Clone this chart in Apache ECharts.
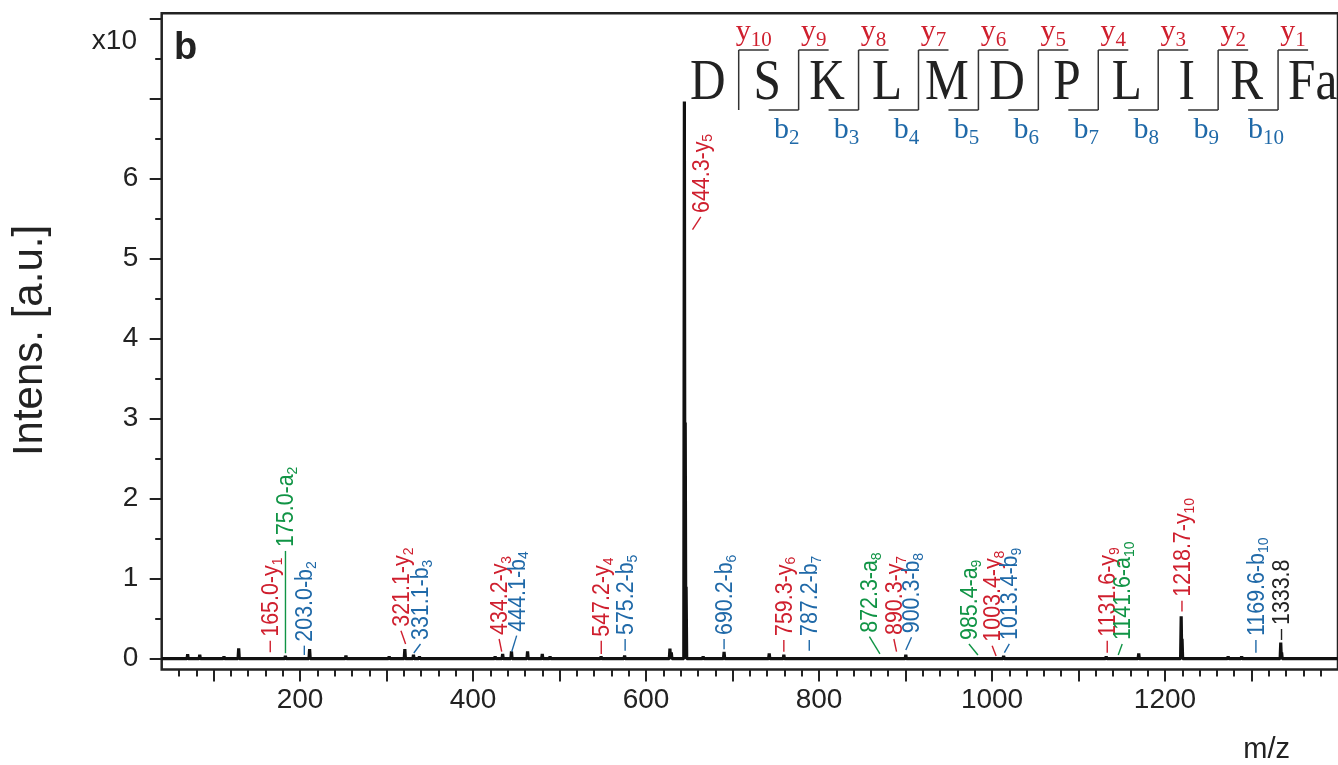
<!DOCTYPE html>
<html>
<head>
<meta charset="utf-8">
<title>MS/MS spectrum</title>
<script src="https://cdn.jsdelivr.net/npm/echarts@6/dist/echarts.min.js"></script>
<style>
  html, body { margin: 0; padding: 0; background: #fff; }
  #chart { width: 1338px; height: 765px; }
</style>
</head>
<body>
<div id="chart"></div>
<script>
// ---- Spectrum peaks (m/z, intensity in units of the "x10" axis) ----
const peakMz = [70, 84, 112, 129, 183, 211, 253, 303, 321.1, 331.1,
                338, 425.5, 434.2, 444.4, 463, 480, 489, 548, 575.2, 627.6,
                629.2, 644.3, 645.3, 646.3, 666, 690.2, 742.4, 759.3, 900.3, 1013.4,
                1132, 1169.6, 1218.7, 1219.7, 1273, 1288.6, 1300, 1333.8, 1334.8];
const peakIntensity = [0.055, 0.05, 0.03, 0.13, 0.035, 0.12, 0.04, 0.03, 0.12, 0.05,
                       0.03, 0.03, 0.06, 0.09, 0.09, 0.06, 0.03, 0.03, 0.04, 0.125,
                       0.08, 6.96, 2.95, 0.9, 0.03, 0.085, 0.065, 0.05, 0.05, 0.035,
                       0.03, 0.065, 0.53, 0.25, 0.03, 0.03, 0.02, 0.2, 0.08];

// ---- Fragment ion annotations ----
const ionMz    = ['165.0', '175.0', '203.0', '321.1', '331.1', '434.2', '444.1', '547.2', '575.2', '644.3',
                  '690.2', '759.3', '787.2', '872.3', '890.3', '900.3', '985.4', '1003.4', '1013.4', '1131.6',
                  '1141.6', '1218.7', '1169.6', '1333.8'];
const ionType  = ['y', 'a', 'b', 'y', 'b', 'y', 'b', 'y', 'b', 'y',
                  'b', 'y', 'b', 'a', 'y', 'b', 'a', 'y', 'b', 'y',
                  'a', 'y', 'b', ''];
const ionIndex = ['1', '2', '2', '2', '3', '3', '4', '4', '5', '5',
                  '6', '6', '7', '8', '7', '8', '9', '8', '9', '9',
                  '10', '10', '10', ''];

// Leader lines: foot (m/z, level) near the peak, head (m/z, level) where the label starts
const leaderFootMz    = [165.5, 183.1, 204.9, 322.0, 331.5, 433.1, 444.7, 548.2, 575.8, 653.7,
                         690.2, 759.3, 788.7, 870.4, 889.6, 900.3, 983.7, 1004.7, 1014.3, 1133.2,
                         1145.9, 1219.6, 1305.1, 1334.7];
const leaderFootLevel = [0.08, 0.068, 0.046, 0.184, 0.071, 0.088, 0.088, 0.059, 0.10, 5.359,
                         0.117, 0.088, 0.10, 0.059, 0.088, 0.109, 0.046, 0.034, 0.075, 0.075,
                         0.046, 0.588, 0.075, 0.234];
const leaderHeadMz    = [165.5, 183.1, 204.9, 316.6, 339.2, 430.1, 450.4, 548.2, 575.8, 663.3,
                         690.2, 759.3, 788.7, 858.2, 886.5, 906.9, 973.3, 1000.1, 1020.0, 1133.2,
                         1150.5, 1219.6, 1305.1, 1334.7];
const leaderHeadLevel = [0.225, 1.346, 0.163, 0.35, 0.184, 0.246, 0.288, 0.225, 0.246, 5.518,
                         0.246, 0.234, 0.234, 0.275, 0.246, 0.268, 0.184, 0.163, 0.184, 0.225,
                         0.184, 0.725, 0.234, 0.371];

// ---- Axis ticks ----
const xMajorTicks = [100, 200, 300, 400, 500, 600, 700, 800, 900, 1000, 1100, 1200, 1300];
const xMinorTicks = [];
for (let v = 60; v < 1400; v += 20) { if (v % 100 !== 0) xMinorTicks.push(v); }
const xTickLabels = [200, 400, 600, 800, 1000, 1200];
const yMajorTicks = [0, 1, 2, 3, 4, 5, 6, 7, 8];
const yMinorTicks = [0.5, 1.5, 2.5, 3.5, 4.5, 5.5, 6.5, 7.5];
const yTickLabels = [0, 1, 2, 3, 4, 5, 6];

// ---- Peptide sequence with cleavage markers ----
const sequence = ['D', 'S', 'K', 'L', 'M', 'D', 'P', 'L', 'I', 'R', 'Fa'];
const yIonNumbers = ['10', '9', '8', '7', '6', '5', '4', '3', '2', '1'];
const bIonNumbers = ['', '2', '3', '4', '5', '6', '7', '8', '9', '10'];

const RED = '#cf1f2e', BLUE = '#1f69a8', GREEN = '#109445', INK = '#222';
const typeColor = { y: RED, b: BLUE, a: GREEN };
const SANS = '"Liberation Sans", Arial, Helvetica, sans-serif';
const SERIF = '"Liberation Serif", "Times New Roman", serif';

// Spectrum trace: baseline with narrow spikes
const order = peakMz.map((m, i) => i).sort((a, b) => peakMz[a] - peakMz[b]);
const trace = [[40, 0]];
order.forEach(i => {
  const m = peakMz[i], h = peakIntensity[i];
  trace.push([m - 0.7, 0], [m, h], [m + 0.7, 0]);
});
trace.push([1400, 0]);

const leaderData = ionMz.map((_, i) => [leaderFootMz[i], leaderFootLevel[i], leaderHeadMz[i], leaderHeadLevel[i]]);

function renderIonLabel(params, api) {
  const i = params.dataIndex;
  const foot = api.coord([api.value(0), api.value(1)]);
  const head = api.coord([api.value(2), api.value(3)]);
  const color = typeColor[ionType[i]] || INK;
  const main = ionMz[i] + (ionType[i] ? '-' + ionType[i] : '');
  const sub = ionIndex[i];
  return {
    type: 'group',
    children: [
      { type: 'line', shape: { x1: foot[0], y1: foot[1], x2: head[0], y2: head[1] },
        style: { stroke: color, lineWidth: 1.4 } },
      { type: 'text', x: head[0] + 1.5, y: head[1] - 4, rotation: Math.PI / 2, scaleX: 0.93,
        style: {
          text: '{n|' + main + '}' + (sub ? '{s|' + sub + '}' : ''),
          align: 'left', verticalAlign: 'middle', fill: color,
          rich: {
            n: { fontSize: 23, fontFamily: SANS, fill: color, lineHeight: 23, verticalAlign: 'top' },
            s: { fontSize: 15, fontFamily: SANS, fill: color, lineHeight: 15, padding: [10, 0, 0, 0], verticalAlign: 'top' }
          }
        } }
    ]
  };
}

// ---- Sequence header graphics ----
const header = [];
const cutX = yIonNumbers.map((_, g) => 738.7 + 59.93 * g);
sequence.forEach((aa, k) => {
  if (aa === 'Fa') {
    header.push({ type: 'text', x: cutX[9] + 10, y: 84.4, scaleX: 0.88,
      style: { text: aa, font: '56px ' + SERIF, fill: INK, align: 'left', verticalAlign: 'middle' } });
  } else {
    const cx = k === 0 ? cutX[0] - 31 : cutX[k - 1] + 28.5;
    header.push({ type: 'text', x: cx, y: 84.4, scaleX: 0.88,
      style: { text: aa, font: '56px ' + SERIF, fill: INK, align: 'center', verticalAlign: 'middle' } });
  }
});
cutX.forEach((x, g) => {
  header.push({ type: 'line', shape: { x1: x, y1: 50, x2: x, y2: 110 }, style: { stroke: '#333', lineWidth: 1.5 } });
  header.push({ type: 'line', shape: { x1: x, y1: 50, x2: x + 30, y2: 50 }, style: { stroke: '#333', lineWidth: 1.5 } });
  header.push({ type: 'text', x: x + 15, y: 32.1,
    style: { text: '{n|y}{s|' + yIonNumbers[g] + '}', align: 'center', verticalAlign: 'middle',
      rich: {
        n: { fontSize: 30, fontFamily: SERIF, fill: RED, lineHeight: 30, verticalAlign: 'top' },
        s: { fontSize: 21, fontFamily: SERIF, fill: RED, lineHeight: 21, padding: [13, 0, 0, 0], verticalAlign: 'top' }
      } } });
  if (bIonNumbers[g]) {
    header.push({ type: 'line', shape: { x1: x - 30, y1: 110, x2: x, y2: 110 }, style: { stroke: '#333', lineWidth: 1.5 } });
    header.push({ type: 'text', x: x - 12, y: 130.4,
      style: { text: '{n|b}{s|' + bIonNumbers[g] + '}', align: 'center', verticalAlign: 'middle',
        rich: {
          n: { fontSize: 30, fontFamily: SERIF, fill: BLUE, lineHeight: 30, verticalAlign: 'top' },
          s: { fontSize: 21, fontFamily: SERIF, fill: BLUE, lineHeight: 21, padding: [13, 0, 0, 0], verticalAlign: 'top' }
        } } });
  }
});

// Panel letter, exponent marker and axis titles
header.push(
  { type: 'text', x: 174, y: 49, style: { text: 'b', font: 'bold 38px ' + SANS, fill: INK, align: 'left', verticalAlign: 'middle' } },
  { type: 'text', x: 137, y: 41, style: { text: 'x10', font: '28px ' + SANS, fill: INK, align: 'right', verticalAlign: 'middle' } },
  { type: 'text', x: 30.4, y: 340.5, rotation: Math.PI / 2,
    style: { text: 'Intens. [a.u.]', font: '42px ' + SANS, fill: INK, align: 'center', verticalAlign: 'middle' } },
  { type: 'text', x: 1266.7, y: 750, style: { text: 'm/z', font: '29px ' + SANS, fill: INK, align: 'center', verticalAlign: 'middle' } }
);

const tickStyle = { color: INK, width: 2 };
const hiddenLine = { show: false, onZero: false };
const chart = echarts.init(document.getElementById('chart'), null, { renderer: 'canvas' });
chart.setOption({
  animation: false,
  backgroundColor: '#fff',
  grid: [
    { left: 161.7, top: 13.3, width: 1181.8, height: 656.2, show: true, borderColor: INK, borderWidth: 2.5, backgroundColor: 'transparent' }
  ],
  xAxis: [
    { type: 'value', min: 40, max: 1400, position: 'bottom',
      axisLine: hiddenLine, splitLine: { show: false },
      axisTick: { show: true, inside: false, customValues: xMajorTicks, length: 12, lineStyle: tickStyle },
      axisLabel: { customValues: xTickLabels, fontSize: 28, fontFamily: SANS, color: INK, margin: 16.5,
        formatter: v => String(v) } },
    { type: 'value', min: 40, max: 1400, position: 'bottom',
      axisLine: hiddenLine, splitLine: { show: false },
      axisTick: { show: true, inside: false, customValues: xMinorTicks, length: 7, lineStyle: tickStyle },
      axisLabel: { show: false, customValues: xMinorTicks } }
  ],
  yAxis: [
    { type: 'value', min: -0.135, max: 8.0625, position: 'left',
      axisLine: hiddenLine, splitLine: { show: false },
      axisTick: { show: true, inside: false, customValues: yMajorTicks, length: 12, lineStyle: tickStyle },
      axisLabel: { customValues: yTickLabels, fontSize: 28, fontFamily: SANS, color: INK, margin: 23.5,
        formatter: v => String(v) } },
    { type: 'value', min: -0.135, max: 8.0625, position: 'left',
      axisLine: hiddenLine, splitLine: { show: false },
      axisTick: { show: true, inside: false, customValues: yMinorTicks, length: 6.5, lineStyle: tickStyle },
      axisLabel: { show: false, customValues: yMinorTicks } }
  ],
  series: [
    { type: 'line', xAxisIndex: 0, yAxisIndex: 0, data: trace, showSymbol: false, symbol: 'none',
      lineStyle: { color: '#111', width: 3.2 }, silent: true, z: 3 },
    { type: 'custom', xAxisIndex: 0, yAxisIndex: 0, data: leaderData, renderItem: renderIonLabel, silent: true, z: 4 }
  ],
  graphic: { elements: header }
});
</script>
</body>
</html>
